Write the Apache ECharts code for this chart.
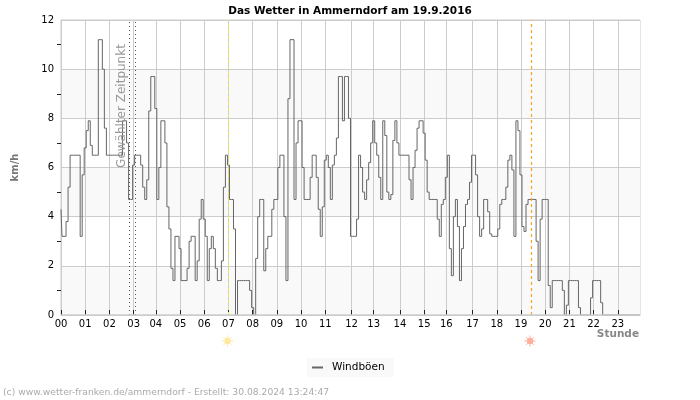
<!DOCTYPE html>
<html><head><meta charset="utf-8">
<style>html,body{margin:0;padding:0;background:#fff}#c{width:700px;height:400px}</style>
<script src="https://cdn.jsdelivr.net/npm/echarts@6/dist/echarts.min.js"></script>
</head><body><div id="c"></div>
<script>
var hourLabels = ['00','01','02','03','04','05','06','07','08','09','10','11','12','13','14','15','16','17','18','19','20','21','22','23'];
var hourSlots = [0,12,24,36,47,59,71,83,95,107,119,131,144,155,168,180,191,204,216,228,240,252,264,276];
var selectedSlots = [34,37];
var sunriseSlot = 83;
var sunsetSlot = 233;
var gusts = [
4.3,3.2,3.2,3.8,5.2,6.5,6.5,6.5,6.5,6.5,
3.2,5.7,6.8,7.5,7.9,6.9,6.5,6.5,6.5,11.2,
11.2,10,7.6,6.5,6.5,6.5,6.5,6.5,6.5,6.5,
6.5,7.9,7.9,7,4.7,4.7,6.1,6.5,6.5,6.5,
6.1,5.2,4.7,5.5,8.3,9.7,9.7,8.4,4.7,6,
7.9,7.9,7,4.4,3.5,1.9,1.4,3.2,3.2,2.7,
1.4,1.4,1.4,1.9,3,3.2,3.2,1.4,2.2,3.9,
4.7,3.9,3.2,1.4,2.7,3.2,2.7,1.9,1.4,1.4,
2.2,5.2,6.5,6.1,4.7,4.7,3.5,0,1.4,1.4,
1.4,1.4,1.4,1.4,1,0.3,0,2.3,4,4.7,
4.7,1.8,2.7,3.2,3.2,4.3,4.7,4.7,6,6.5,
6.5,4,1.4,8.8,11.2,11.2,4.7,7,7.9,7.9,
6,4.7,4.7,4.7,5.6,6.5,6.5,5.6,4.3,3.2,
4.4,6.3,6.5,6,4.7,6.1,6.5,7.2,9.7,9.7,
7.9,9.7,9.7,8,3.2,3.2,3.2,3.9,6.5,6,
5,4.7,5.5,6.2,7,7.9,7,6.5,5.6,4.7,
7.9,7.3,5,4.7,4.9,7.1,7.9,7,6.5,6.5,
6.5,6.5,6.5,5.5,4.7,6,6.7,7.6,7.9,7.9,
7.4,6.3,5,4.7,4.7,4.7,4.7,3.9,3.2,4.5,
4.7,5.6,6.5,2.7,1.6,4,4.7,3.6,1.4,2.7,
3.6,4.5,4.7,5.4,6.5,6.5,5.7,4,3.2,3.5,
4.7,4.7,4.2,3.3,3.2,3.2,3.2,3.5,4.5,4.7,
4.7,5.2,6.3,6.5,5.9,3.2,7.9,7.5,5.7,3.6,
3.4,4.5,4.7,4.7,4.7,4.7,3,1.4,3.9,4.7,
4.7,4.7,1.2,0.3,1.4,1.4,1.4,1.4,1.4,1,
0,0.4,1.4,1.4,1.4,1.4,1.4,0.3,0,0,
0,0,0,0.7,1.4,1.4,1.4,1.4,0.5,0,
0,0,0,0,0,0,0,0,0,0,
0,0,0,0,0,0,0,0
];

var slots = gusts.map(function(_, i){ return String(i); });
function isHour(i){ return hourSlots.indexOf(i) >= 0; }
var FONT = 'DejaVu Sans';

function sun(cx, cy, color){
  var kids = [{type:'circle', shape:{cx:cx, cy:cy, r:3.2}, style:{fill:color}}];
  for (var a = 0; a < 8; a++){
    var t = a*Math.PI/4;
    kids.push({type:'line', shape:{x1:cx+3.2*Math.cos(t), y1:cy+3.2*Math.sin(t), x2:cx+5.5*Math.cos(t), y2:cy+5.5*Math.sin(t)},
      style:{stroke:color, lineWidth:1}});
  }
  return {type:'group', children:kids};
}

var chart = echarts.init(document.getElementById('c'), null, {renderer:'canvas'});
chart.setOption({
  animation:false,
  backgroundColor:'#fff',
  title:{text:'Das Wetter in Ammerndorf am 19.9.2016', left:'center', top:1,
    textStyle:{fontFamily:FONT, fontSize:10.5, fontWeight:'bold', color:'#000'}},
  legend:{show:true, left:307, top:358, padding:[4,9,4,5], backgroundColor:'#f9f9f9', itemWidth:11, itemHeight:2, itemGap:5,
    icon:'rect', data:['Windböen'], textStyle:{fontFamily:FONT, fontSize:10.5, color:'#000', padding:[0,0,0,4]}},
  grid:{left:61, right:60, top:20, bottom:85, show:true, backgroundColor:'transparent', borderColor:'#ccc', borderWidth:1},
  xAxis:{type:'category', data:slots, boundaryGap:false,
    axisLine:{lineStyle:{color:'#ccc', width:1}},
    axisTick:{show:true, inside:true, length:5, interval:function(i){return isHour(i);}, lineStyle:{color:'#222'}},
    axisLabel:{interval:function(i){return isHour(i);}, formatter:function(v,i){return hourLabels[hourSlots.indexOf(Number(v))]||'';},
      fontFamily:FONT, fontSize:10, color:'#000', margin:4},
    splitLine:{show:true, interval:function(i){return isHour(i);}, lineStyle:{color:'#ccc', width:1}}
  },
  yAxis:{type:'value', min:0, max:12, interval:2,
    name:'km/h', nameLocation:'middle', nameGap:41, nameRotate:90,
    nameTextStyle:{fontFamily:FONT, fontSize:10, fontWeight:'bold', color:'#777'},
    axisLine:{show:true, lineStyle:{color:'#ccc'}},
    axisTick:{show:false},
    minorTick:{show:true, splitNumber:2, length:4, lineStyle:{color:'#222'}},
    axisLabel:{fontFamily:FONT, fontSize:10, color:'#000', margin:7},
    splitLine:{show:true, lineStyle:{color:'#ccc', width:1}},
    splitArea:{show:true, areaStyle:{color:['#f9f9f9','#ffffff']}}
  },
  series:[{
    name:'Windböen', type:'line', data:gusts, step:'middle', showSymbol:false, symbol:'none', z:3,
    lineStyle:{color:'#666', width:1}, itemStyle:{color:'#666'},
    markLine:{silent:true, symbol:'none', label:{show:false}, animation:false,
      data:[
        {xAxis:selectedSlots[0], lineStyle:{color:'#555', type:[1,3], width:1}},
        {xAxis:selectedSlots[1], lineStyle:{color:'#555', type:[1,3], width:1}},
        {xAxis:sunriseSlot, lineStyle:{color:'#eee455', type:[3,3], width:1}},
        {xAxis:sunsetSlot, lineStyle:{color:'#ffa020', type:[3,3], width:1.2}},
        {yAxis:0, lineStyle:{color:'#ccc', type:'solid', width:1.5}}
      ]}
  }],
  graphic:[
    {type:'text', x:122, y:106, rotation:Math.PI/2, originX:0, originY:0, z:10, silent:true,
      style:{text:'Gewählter Zeitpunkt', fontFamily:FONT, fontSize:12, fill:'#999', textAlign:'center', textVerticalAlign:'middle'}},
    {type:'text', right:61, top:329, silent:true, style:{text:'Stunde', fontFamily:FONT, fontSize:10.5, fontWeight:'bold', fill:'#888'}},
    {type:'text', left:3, top:388, silent:true, style:{text:'(c) www.wetter-franken.de/ammerndorf - Erstellt: 30.08.2024 13:24:47', fontFamily:FONT, fontSize:9.2, fill:'#aaa'}},
    sun(227.5, 341, '#ffe9a0'),
    sun(530, 341, '#ffb09a')
  ]
});
</script></body></html>
